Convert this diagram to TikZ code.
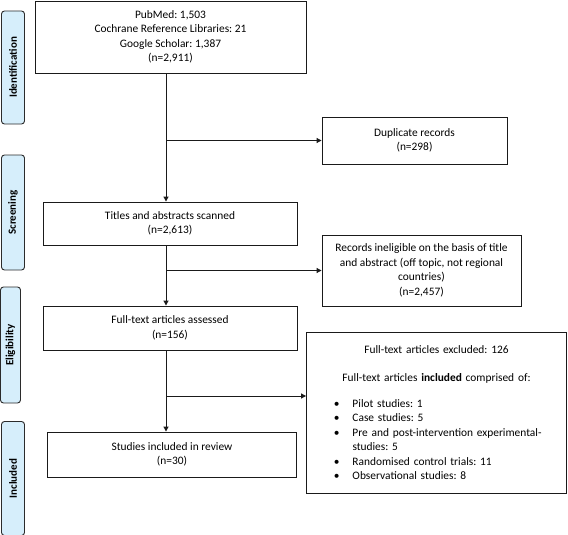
\documentclass[tikz,border=0pt]{standalone}
\usepackage{fontspec}
\setmainfont{Carlito}
\usepackage{xcolor}
\usepackage{tikz}
\usetikzlibrary{arrows.meta,positioning}
\definecolor{ink}{HTML}{1A1A1A}
\definecolor{phase}{HTML}{D6EEFB}
\definecolor{phaseedge}{HTML}{2B2B2B}
\tikzset{
  box/.style={draw=ink, line width=0.9pt, align=center, inner sep=2pt, font=\fontsize{11.4}{14.5}\selectfont\frenchspacing},
  flow/.style={draw=ink, line width=1pt, -{Triangle[length=5pt, width=5pt]}},
  phaselab/.style={draw=phaseedge, fill=phase, rounded corners=3pt, line width=0.9pt, rotate=90, inner sep=0pt, font=\fontsize{11}{13}\selectfont\bfseries, minimum height=23pt},
}
\newcommand{\bul}[1]{\par\noindent\llap{\textbullet\hspace{13pt}}#1}

\begin{document}
\begin{tikzpicture}[x=1pt,y=-1pt]
\useasboundingbox (0,0) rectangle (568,535);
% phases
\node[phaselab, minimum width=113pt] (ident) at (13,67.5) {Identification};
\node[phaselab, minimum width=115pt] (screen) at (13,212.5) {Screening};
\node[phaselab, minimum width=116pt, minimum height=20pt] (elig) at (10.5,345) {Eligibility};
\node[phaselab, minimum width=114pt] (incl) at (13,478.5) {Included};
% boxes
\node[box, minimum width=271pt, minimum height=72pt] (search) at (170.5,37) {PubMed: 1,503\\Cochrane Reference Libraries: 21\\Google Scholar: 1,387\\(n=2,911)};
\node[box, minimum width=185pt, minimum height=47pt] (dup) at (414.5,140.5) {Duplicate records\\(n=298)};
\node[box, minimum width=254pt, minimum height=43pt] (titles) at (170,223.5) {Titles and abstracts scanned\\(n=2,613)};
\node[box, minimum width=199pt, minimum height=71pt] (inelig) at (421.5,270.5) {Records ineligible on the basis of title\\and abstract (off topic, not regional\\countries)\\(n=2,457)};
\node[box, minimum width=260pt, minimum height=161pt, text width=256pt, inner xsep=0pt, align=left] (excl) at (436.5,412.5) {%
  {\centering Full-text articles excluded: 126\par}\vspace{14pt}
  {\centering Full-text articles \textbf{included} comprised of:\par}\vspace{11pt}
  \leftskip=44pt
  \bul{Pilot studies: 1}
  \bul{Case studies: 5}
  \bul{Pre and post-intervention experimental-\\studies: 5}
  \bul{Randomised control trials: 11}
  \bul{Observational studies: 8}\par};
\node[box, minimum width=254pt, minimum height=44pt] (fulltext) at (170,328) {Full-text articles assessed\\(n=156)};
\node[box, minimum width=249pt, minimum height=45pt] (studies) at (172,454.5) {Studies included in review\\(n=30)};
% connectors
\coordinate (spine) at (166,0);
\coordinate (split) at (166,396);
\draw[flow] (search.south -| spine) -- (titles.north -| spine);
\draw[flow] (spine |- dup.west) -- (dup.west);
\draw[flow] (titles.south -| spine) -- (fulltext.north -| spine);
\draw[flow] (spine |- inelig.west) -- (inelig.west);
\draw[flow] (fulltext.south -| spine) -- (studies.north -| spine);
\draw[flow] (split) -- (split -| excl.west);
\end{tikzpicture}
\end{document}
